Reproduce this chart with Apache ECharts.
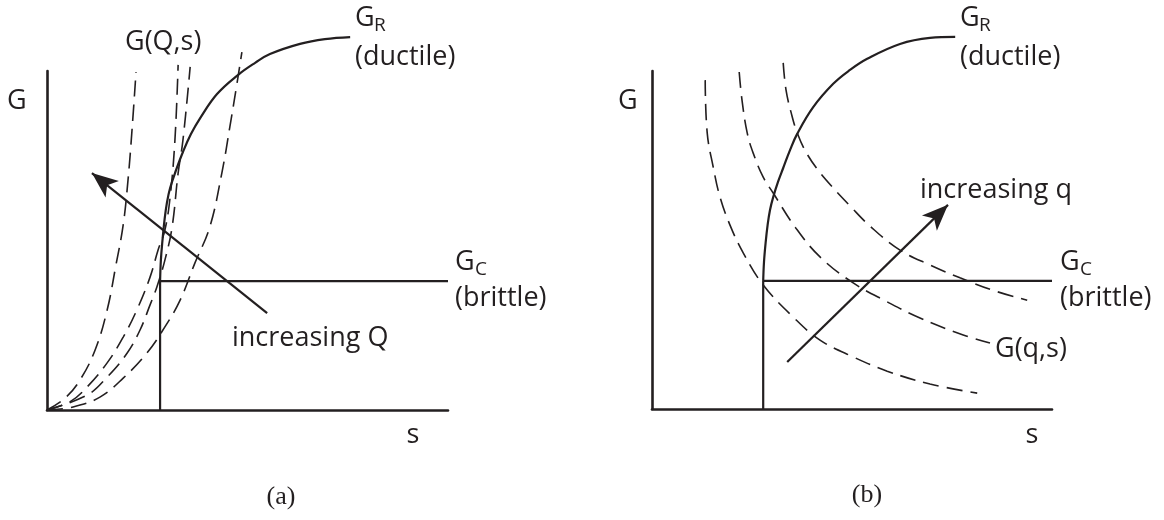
<!DOCTYPE html>
<html>
<head>
<meta charset="utf-8">
<script src="https://cdn.jsdelivr.net/npm/echarts@6/dist/echarts.min.js"></script>
<style>
  html, body { margin: 0; padding: 0; background: #fff; }
  #chart { width: 1164px; height: 520px; }
</style>
</head>
<body>
<div id="chart"></div>
<script>
// ---- Panel (a): fixed load Q, several curves G(Q,s) ----
const sCritA = 2.82;          // crack length where G reaches G_C
const gcA = 3.8;              // brittle toughness level
const brittleA = [[sCritA, 0], [sCritA, gcA], [10, gcA]];
const ductileA = [[2.82, 3.8], [2.84, 4.42], [2.88, 5.01], [2.93, 5.6], [2.99, 6.11], [3.07, 6.55],
                  [3.22, 7.08], [3.39, 7.61], [3.59, 8.14], [3.82, 8.61], [4.24, 9.32], [4.76, 9.88],
                  [5.19, 10.24], [5.56, 10.5], [6.31, 10.8], [6.93, 10.94], [7.56, 11.0]];
const loadA1 = [[0, 0], [0.45, 0.35], [0.82, 0.88], [1.2, 1.77], [1.5, 2.95], [1.72, 4.28],
                [1.9, 5.46], [2.02, 6.78], [2.12, 8.26], [2.22, 9.97]];
const loadA2 = [[0, 0], [0.57, 0.24], [1.0, 0.68], [1.5, 1.39], [1.9, 2.15], [2.24, 2.95],
                [2.57, 3.92], [2.77, 4.72], [2.94, 5.31], [3.07, 6.28], [3.19, 7.96], [3.27, 10.18]];
const loadA3 = [[0, 0], [1.0, 0.44], [1.5, 0.97], [2.0, 1.68], [2.32, 2.36], [2.57, 3.1],
                [2.74, 3.63], [2.94, 4.42], [3.12, 5.4], [3.27, 6.99], [3.39, 7.96], [3.57, 10.12]];
const loadA4 = [[0, 0], [0.65, 0.09], [1.32, 0.38], [1.9, 0.94], [2.49, 1.68], [2.94, 2.45],
                [3.32, 3.24], [3.69, 4.34], [4.06, 5.4], [4.36, 6.99], [4.56, 8.35], [4.74, 9.65], [4.86, 10.56]];
const arrowA = [[5.49, 2.86], [1.12, 6.99]];

// ---- Panel (b): fixed displacement q, curves G(q,s) ----
const sCritB = 2.78;
const gcB = 3.79;
const brittleB = [[sCritB, 0], [sCritB, gcB], [10, gcB]];
const ductileB = [[2.78, 3.79], [2.8, 4.35], [2.84, 4.91], [2.89, 5.44], [2.95, 5.89], [3.03, 6.27],
                  [3.15, 6.72], [3.28, 7.13], [3.45, 7.66], [3.63, 8.14], [4.03, 8.93], [4.53, 9.62],
                  [4.95, 10.03], [5.38, 10.36], [6.2, 10.8], [6.95, 10.98], [7.58, 11.01]];
const loadB1 = [[1.33, 9.73], [1.38, 8.17], [1.53, 7.16], [1.7, 6.27], [1.95, 5.44], [2.28, 4.62],
                [2.78, 3.67], [3.53, 2.72], [4.2, 2.04], [5.03, 1.54], [5.88, 1.12], [6.95, 0.74], [8.13, 0.47]];
const loadB2 = [[2.18, 9.97], [2.25, 9.14], [2.38, 8.17], [2.53, 7.57], [2.78, 6.86], [3.03, 6.39],
                [3.58, 5.38], [4.2, 4.5], [5.03, 3.73], [5.88, 3.17], [6.7, 2.69], [7.78, 2.19], [8.45, 1.95]];
const loadB3 = [[3.28, 10.24], [3.35, 9.44], [3.48, 8.76], [3.63, 8.17], [3.85, 7.6], [4.15, 7.07],
                [4.53, 6.54], [4.95, 6.01], [5.45, 5.41], [6.2, 4.7], [6.95, 4.26], [7.7, 3.88],
                [8.58, 3.49], [9.38, 3.22]];
const arrowB = [[3.38, 1.39], [7.4, 6.04]];

const INK = '#231f20';
const SANS = '"Open Sans", "Noto Sans", sans-serif';
const SERIF = '"Liberation Serif", "DejaVu Serif", serif';
const FS = 27;

function solid(name, data, g) {
  return { name, type: 'line', xAxisIndex: g, yAxisIndex: g, data, smooth: 0.4, showSymbol: false,
           clip: false, silent: true, lineStyle: { color: INK, width: 2.2 } };
}
function dashed(name, data, g) {
  return { name, type: 'line', xAxisIndex: g, yAxisIndex: g, data, smooth: 0.4, showSymbol: false,
           clip: false, silent: true, lineStyle: { color: INK, width: 1.6, type: [16, 8] } };
}
function straight(name, data, g) {
  return { name, type: 'line', xAxisIndex: g, yAxisIndex: g, data, smooth: false, showSymbol: false,
           clip: false, silent: true, lineStyle: { color: INK, width: 2.2 } };
}
function arrow(name, pts, g) {
  return { name, type: 'line', xAxisIndex: g, yAxisIndex: g, data: [], silent: true,
           markLine: { silent: true, animation: false, symbol: ['none', 'arrow'], symbolSize: [16, 26],
                       label: { show: false }, lineStyle: { color: INK, width: 2.2, type: 'solid' },
                       emphasis: { disabled: true },
                       data: [[{ coord: pts[0] }, { coord: pts[1] }]] } };
}
function txt(str, x, y, size, font, align) {
  return { type: 'text', x, y, silent: true,
           style: { text: str, fill: INK, font: size + 'px ' + (font || SANS),
                    align: align || 'left', verticalAlign: 'middle',
                    textAlign: align || 'left', textVerticalAlign: 'middle' } };
}

const axisX = g => ({ type: 'value', gridIndex: g, min: 0, max: 10, axisLine: { show: true, lineStyle: { color: INK, width: 2.6 } },
  axisTick: { show: false }, axisLabel: { show: false }, splitLine: { show: false } });
const axisY = g => ({ type: 'value', gridIndex: g, min: 0, max: 10, axisLine: { show: true, lineStyle: { color: INK, width: 2.6 } },
  axisTick: { show: false }, axisLabel: { show: false }, splitLine: { show: false } });

const chart = echarts.init(document.getElementById('chart'), null, { renderer: 'canvas' });
chart.setOption({
  animation: false,
  backgroundColor: '#ffffff',
  grid: [
    { left: 47, top: 71, width: 401, height: 339 },
    { left: 652, top: 71, width: 400, height: 338 }
  ],
  xAxis: [axisX(0), axisX(1)],
  yAxis: [axisY(0), axisY(1)],
  series: [
    dashed('G(Q,s) 1', loadA1, 0), dashed('G(Q,s) 2', loadA2, 0),
    dashed('G(Q,s) 3', loadA3, 0), dashed('G(Q,s) 4', loadA4, 0),
    straight('G_C (a)', brittleA, 0), solid('G_R (a)', ductileA, 0),
    arrow('increasing Q', arrowA, 0),
    dashed('G(q,s) 1', loadB1, 1), dashed('G(q,s) 2', loadB2, 1), dashed('G(q,s) 3', loadB3, 1),
    straight('G_C (b)', brittleB, 1), solid('G_R (b)', ductileB, 1),
    arrow('increasing q', arrowB, 1)
  ],
  graphic: [
    // panel (a) annotations
    txt('G', 7, 101, FS),
    txt('G(Q,s)', 125, 42, FS),
    txt('G', 355, 18, FS), txt('R', 374, 26, 19),
    txt('(ductile)', 355, 57, FS),
    txt('G', 455, 262, FS), txt('C', 475, 270, 19),
    txt('(brittle)', 455, 298, FS),
    txt('increasing Q', 232, 338, FS),
    txt('s', 413, 435, FS, SANS, 'center'),
    txt('(a)', 281, 497, 26, SERIF, 'center'),
    // panel (b) annotations
    txt('G', 618, 101, FS),
    txt('G', 960, 18, FS), txt('R', 979, 26, 19),
    txt('(ductile)', 960, 57, FS),
    txt('G', 1060, 262, FS), txt('C', 1080, 270, 19),
    txt('(brittle)', 1060, 298, FS),
    txt('increasing q', 920, 190, FS),
    txt('G(q,s)', 995, 349, FS),
    txt('s', 1032, 435, FS, SANS, 'center'),
    txt('(b)', 867, 495, 26, SERIF, 'center')
  ]
});
</script>
</body>
</html>
